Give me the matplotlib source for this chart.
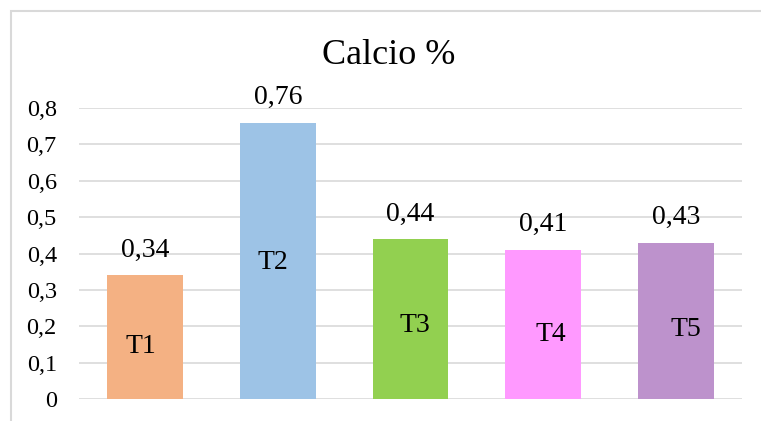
import numpy as np
import matplotlib
matplotlib.use("Agg")
import matplotlib.pyplot as plt
from matplotlib.patches import Rectangle

plt.rcParams['font.family'] = ['Liberation Serif', 'DejaVu Serif']

# datos
tratamientos = ['T1', 'T2', 'T3', 'T4', 'T5']
calcio = [0.34, 0.76, 0.44, 0.41, 0.43]
etiquetas = ['0,34', '0,76', '0,44', '0,41', '0,43']
colores = ['#F4B183', '#9DC3E6', '#92D050', '#FF99FF', '#BD92CC']
yticks = [0, 0.1, 0.2, 0.3, 0.4, 0.5, 0.6, 0.7, 0.8]
ytick_labels = ['0', '0,1', '0,2', '0,3', '0,4', '0,5', '0,6', '0,7', '0,8']
# posicion de los nombres dentro de las barras (desplazamiento x, altura)
nombre_dx = [-0.03, -0.04, 0.03, 0.06, 0.08]
nombre_y = [0.143, 0.374, 0.203, 0.176, 0.19]

fig = plt.figure(figsize=(7.61, 4.21), dpi=100)
ax = fig.add_axes([79/761, 1 - 399/421, (742 - 79)/761, (399 - 108)/421])

x = np.arange(len(tratamientos))
ax.bar(x, calcio, width=0.573, color=colores, zorder=2)

for xi, v, lab in zip(x, calcio, etiquetas):
    ax.annotate(lab, (xi, v), xytext=(0, 18), textcoords='offset points',
                ha='center', va='center', fontsize=20)
for xi, dx, yy, nom in zip(x, nombre_dx, nombre_y, tratamientos):
    ax.text(xi + dx, yy, nom, ha='center', va='center', fontsize=20, zorder=3)

ax.set_xlim(-0.5, 4.5)
ax.set_ylim(0, 0.8)
ax.set_yticks(yticks)
ax.set_yticklabels(ytick_labels, fontsize=17.5)
ax.set_xticks([])
ax.tick_params(axis='y', length=0, pad=16)
ax.grid(axis='y', color='#D9D9D9', linewidth=1.2, zorder=0)
ax.set_axisbelow(True)
for s in ax.spines.values():
    s.set_visible(False)

fig.text(389/761, 1 - 55/421, 'Calcio %', ha='center', va='center', fontsize=26)

# borde del grafico
fig.add_artist(Rectangle((11/761, -0.1), 1.2, 1 - 11/421 + 0.1, transform=fig.transFigure,
                         fill=False, edgecolor='#D9D9D9', linewidth=1.5))

fig.savefig('out.png', dpi=100)
